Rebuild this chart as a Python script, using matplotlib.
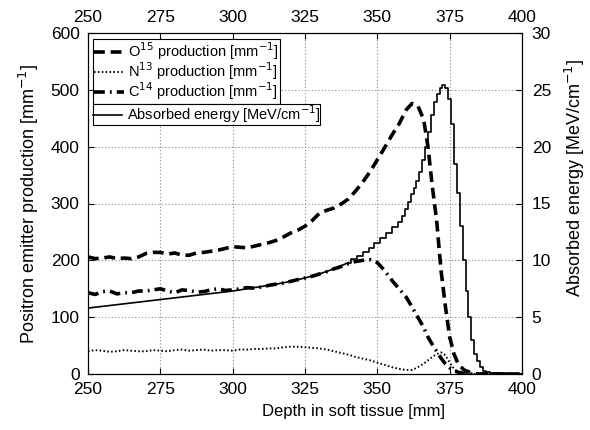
import numpy as np
import matplotlib
matplotlib.use('Agg')
from matplotlib import pyplot as plt

plt.rcParams['font.family'] = ['Liberation Sans', 'DejaVu Sans']

# positron emitter production [mm^-1]
depth_p = [250, 252.5, 255, 257.5, 260, 262.5, 265, 267.5, 270, 272.5, 275, 277.5,
           280, 282.5, 285, 287.5, 290, 292.5, 295, 297.5, 300, 302.5, 305, 307.5,
           310, 312.5, 315, 317.5, 320, 322.5, 325, 327.5, 330, 332.5, 335, 337.5,
           340, 342.5, 345, 347.5, 350, 352.5, 355, 357.5, 360, 362, 364, 366,
           367.5, 369, 370.5, 372, 373.5, 375, 376.5, 378, 380, 382.5, 385, 390, 400]
o15 = [206, 203, 204, 206, 203, 204, 203, 206, 212, 214, 214, 211,
       213, 209, 209, 213, 214, 216, 218, 221, 224, 223, 222, 225,
       228, 231, 235, 241, 248, 253, 260, 270, 283, 288, 292, 299,
       308, 322, 338, 356, 377, 398, 420, 440, 465, 476, 472, 448,
       400, 330, 270, 183, 120, 65, 35, 17, 7, 2, 0, 0, 0]
n13 = [40, 42, 41, 39, 40, 42, 41, 40, 40, 42, 41, 40,
       42, 43, 41, 42, 43, 41, 42, 42, 41, 43, 43, 44,
       44, 45, 45, 47, 48, 48, 47, 46, 45, 43, 40, 37,
       34, 30, 27, 24, 20, 16, 12, 9, 7, 7, 12, 18,
       24, 30, 35, 38, 33, 20, 9, 3, 1, 0, 0, 0, 0]
c14 = [143, 140, 145, 146, 141, 143, 143, 146, 146, 148, 150, 146,
       143, 148, 147, 144, 145, 148, 150, 147, 148, 150, 152, 151,
       153, 156, 158, 160, 163, 166, 169, 172, 176, 180, 185, 189,
       194, 198, 200, 201, 196, 182, 165, 150, 135, 118, 100, 82,
       65, 52, 40, 28, 18, 11, 6, 3, 1, 0, 0, 0, 0]

# absorbed energy [MeV/cm], right axis
depth_e = [250, 255, 260, 265, 270, 275, 280, 285, 290, 295, 300, 305, 310, 315,
           320, 325, 330, 335, 340, 342, 344, 346, 348, 350, 352, 354, 356, 358,
           359, 360, 361, 362, 363, 364, 365, 366, 367, 368, 369, 370, 371, 372,
           373, 374, 375, 376, 377, 378, 379, 380, 381, 382, 383, 384, 385, 386,
           387, 388, 390, 395, 400]
energy = [5.8, 5.95, 6.1, 6.25, 6.4, 6.55, 6.7, 6.85, 7.0, 7.15, 7.3, 7.5, 7.7, 7.9,
          8.15, 8.45, 8.8, 9.25, 9.8, 10.1, 10.4, 10.75, 11.1, 11.5, 11.95, 12.4, 12.9, 13.4,
          13.9, 14.5, 15.1, 15.8, 16.4, 17.0, 17.8, 18.8, 20.0, 21.3, 22.8, 23.9, 24.6, 25.2,
          25.4, 25.2, 24.2, 22.0, 18.5, 15.9, 13.0, 10.0, 7.3, 5.0, 3.0, 1.8, 1.1, 0.6,
          0.3, 0.15, 0.05, 0, 0]

W, H = 590, 430
fig = plt.figure(figsize=(W / 100, H / 100), dpi=100)
ax = fig.add_axes([88 / W, 1 - 374 / H, (522 - 88) / W, (374 - 33) / H])

l1, = ax.plot(depth_p, o15, color='black', linestyle=(0, (3.0, 1.6)), linewidth=2.6,
              label='O$^{15}$ production [mm$^{-1}$]')
l2, = ax.plot(depth_p, n13, color='black', linestyle=(0, (0.8, 1.2)), linewidth=1.4,
              label='N$^{13}$ production [mm$^{-1}$]')
l3, = ax.plot(depth_p, c14, color='black', linestyle=(0, (3.0, 1.4, 0.5, 1.4)), linewidth=2.6,
              label='C$^{14}$ production [mm$^{-1}$]')

ax.set_xlim(250, 400)
ax.set_ylim(0, 600)
ax.set_xticks(np.arange(250, 401, 25))
ax.set_yticks(np.arange(0, 601, 100))
ax.grid(True, color='#888888', linestyle=(0, (1, 2)), linewidth=0.8)
ax.tick_params(direction='in', top=True, labeltop=True, labelsize=12.5, length=4)
ax.tick_params(axis='x', pad=6)
ax.tick_params(axis='y', pad=6)
ax.set_xlabel('Depth in soft tissue [mm]', fontsize=12)
ax.xaxis.set_label_coords((354 - 88) / 434, -(404 - 374) / 341)
ax.set_ylabel('Positron emitter production [mm$^{-1}$]', fontsize=13, labelpad=7)

ax2 = ax.twinx()
# smooth part of the dose curve, then the binned (stair) part near the peak
k = depth_e.index(340)
l4, = ax2.plot(depth_e[:k + 1], energy[:k + 1], color='black', linewidth=1.2,
               label='Absorbed energy [MeV/cm$^{-1}$]')
ax2.plot(depth_e[k:], energy[k:], color='black', linewidth=1.2, drawstyle='steps-mid')
ax2.set_ylim(0, 30)
ax2.set_yticks(np.arange(0, 31, 5))
ax2.tick_params(direction='in', labelsize=12.5, length=4, pad=7)
ax2.set_ylabel('Absorbed energy [MeV/cm$^{-1}$]', fontsize=13)
ax2.yaxis.set_label_coords((563 - 88) / 434, (374 - 178) / 341)

for a in (ax, ax2):
    for s in a.spines.values():
        s.set_linewidth(0.8)

leg_kw = dict(fontsize=10.5, frameon=True, fancybox=False, edgecolor='black',
              framealpha=1, handlelength=2.0, handletextpad=0.3, borderaxespad=0,
              bbox_transform=fig.transFigure, loc='upper left')
leg1 = ax2.legend(handles=[l1, l2, l3], bbox_to_anchor=(93 / W, 1 - 39 / H),
                  borderpad=0.1, labelspacing=-0.12, **leg_kw)
leg1.get_frame().set_linewidth(0.8)
ax2.add_artist(leg1)

# second box sits right under the first one
fig.canvas.draw()
bb = leg1.get_window_extent().transformed(fig.transFigure.inverted())
leg2 = ax2.legend(handles=[l4], bbox_to_anchor=(93 / W, bb.y0),
                  borderpad=0.0, **leg_kw)
leg2.get_frame().set_linewidth(0.8)

fig.savefig('out.png', dpi=100)
